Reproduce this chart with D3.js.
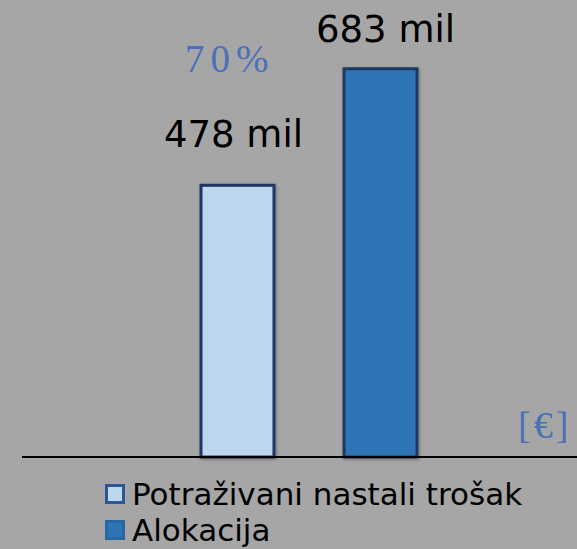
<!DOCTYPE html>
<html>
<head>
<meta charset="utf-8">
<script src="https://cdn.jsdelivr.net/npm/d3@7"></script>
<style>
  html, body { margin: 0; padding: 0; background: #a6a6a6; }
  svg { display: block; }
</style>
</head>
<body>
<svg width="577" height="549"></svg>
<script>
// chart data
const categories = ['Potraživani nastali trošak', 'Alokacija']
const values = [478, 683]
const valueLabels = ['478 mil', '683 mil']
const ratioLabel = '70%'
const unitLabel = '[€]'

const fills = ['#bdd7ee', '#2e75b6']
const legendStrokes = ['#2f5597', '#2a66a3']

let svg = d3.select('svg')
let width = +svg.attr('width')
let height = +svg.attr('height')

svg.append('rect')
    .attr('width', width)
    .attr('height', height)
    .attr('fill', '#a6a6a6')

let baseline = 457

let x = d3.scaleBand()
    .domain(categories)
    .range([129.5, 488.5])
    .paddingInner(0.49)
    .paddingOuter(0.5)

let y = d3.scaleLinear()
    .domain([0, 804])
    .range([baseline, 0])

let defs = svg.append('defs')
let shadow = defs.append('filter').attr('id', 'shadow')
    .attr('x', '-20%').attr('y', '-20%').attr('width', '140%').attr('height', '140%')
shadow.append('feDropShadow')
    .attr('dx', 1).attr('dy', 1).attr('stdDeviation', 1.5)
    .attr('flood-color', '#000').attr('flood-opacity', 0.35)

// bars
svg.append('g')
  .selectAll('rect')
  .data(values)
  .enter().append('rect')
    .attr('x', (d, i) => x(categories[i]))
    .attr('y', d => y(d))
    .attr('width', x.bandwidth())
    .attr('height', d => baseline - y(d))
    .attr('fill', (d, i) => fills[i])
    .attr('stroke', '#1f3864')
    .attr('stroke-width', 3)
    .attr('filter', 'url(#shadow)')

// axis line
svg.append('line')
    .attr('x1', 22).attr('x2', width)
    .attr('y1', baseline).attr('y2', baseline)
    .attr('stroke', '#000')
    .attr('stroke-width', 2)

// value labels (placed by hand in the original, so a small nudge each)
let labelNudge = [[-4, -38], [5, -27]]
svg.append('g')
  .selectAll('text')
  .data(values)
  .enter().append('text')
    .attr('x', (d, i) => x(categories[i]) + x.bandwidth() / 2 + labelNudge[i][0])
    .attr('y', (d, i) => y(d) + labelNudge[i][1])
    .attr('text-anchor', 'middle')
    .attr('font-family', 'DejaVu Sans')
    .attr('font-size', 37)
    .attr('fill', '#000')
    .text((d, i) => valueLabels[i])

// ratio and unit notes
svg.append('text')
    .attr('x', 185)
    .attr('y', 72)
    .attr('font-family', 'Liberation Serif')
    .attr('font-size', 39)
    .attr('letter-spacing', 6)
    .attr('fill', '#4a70b8')
    .text(ratioLabel)

svg.append('text')
    .attr('x', 518)
    .attr('y', 438)
    .attr('font-family', 'Liberation Serif')
    .attr('font-size', 38)
    .attr('letter-spacing', 3)
    .attr('fill', '#4a70b8')
    .text(unitLabel)

// legend
let legend = svg.append('g')
  .selectAll('g')
  .data(categories)
  .enter().append('g')
    .attr('transform', (d, i) => 'translate(105,' + (505 + i * 36) + ')')

legend.append('rect')
    .attr('x', 1.5)
    .attr('y', -19.5)
    .attr('width', 17)
    .attr('height', 17)
    .attr('fill', (d, i) => fills[i])
    .attr('stroke', (d, i) => legendStrokes[i])
    .attr('stroke-width', 3)

legend.append('text')
    .attr('x', 27)
    .attr('y', 0)
    .attr('font-family', 'DejaVu Sans')
    .attr('font-size', 31)
    .attr('fill', '#000')
    .text(d => d)
</script>
</body>
</html>
